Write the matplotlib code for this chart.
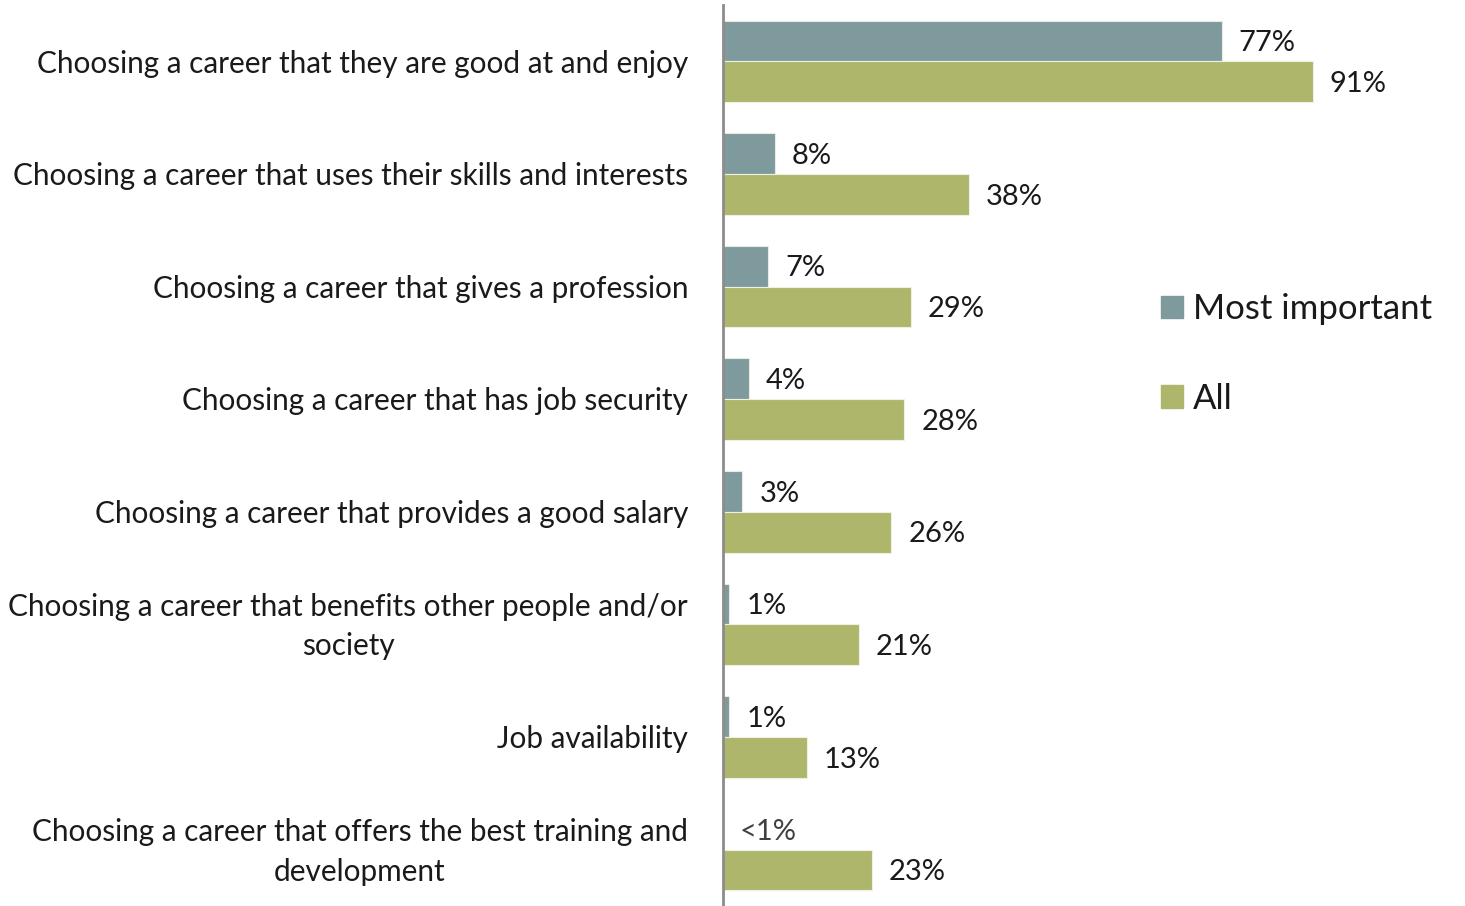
import matplotlib.pyplot as plt
from matplotlib.patches import Patch

plt.rcParams['font.family'] = ['Lato', 'DejaVu Sans']

categories = [
    "Choosing a career that they are good at and enjoy",
    "Choosing a career that uses their skills and interests",
    "Choosing a career that gives a profession",
    "Choosing a career that has job security",
    "Choosing a career that provides a good salary",
    "Choosing a career that benefits other people and/or\nsociety",
    "Job availability",
    "Choosing a career that offers the best training and\ndevelopment",
]
most_important = [77, 8, 7, 4, 3, 1, 1, 0]
most_important_labels = ["77%", "8%", "7%", "4%", "3%", "1%", "1%", "<1%"]
all_values = [91, 38, 29, 28, 26, 21, 13, 23]

teal = '#7f9a9d'
green = '#adb66b'
text_color = '#1a1a1a'

fig = plt.figure(figsize=(14.65, 9.06), dpi=100)
ax = fig.add_axes([723 / 1465, 0, 1 - 723 / 1465, 901 / 906])

pos = list(range(len(categories)))
h = 0.362
ax.barh([p - h / 2 for p in pos], most_important, height=h, color=teal,
        edgecolor='#e8ece4', linewidth=0.8)
ax.barh([p + h / 2 for p in pos], all_values, height=h, color=green,
        edgecolor='#eef0e2', linewidth=0.8)

ax.set_xlim(0, 742 / 6.48)
ax.set_ylim(len(categories) - 0.5, -0.5)

for p, v, lab in zip(pos, most_important, most_important_labels):
    col = '#404040' if lab.startswith('<') else text_color
    ax.text(v + 2.6, p - h / 2 + 0.02, lab, va='center', ha='left', fontsize=21,
            color=col)
for p, v in zip(pos, all_values):
    ax.text(v + 2.6, p + h / 2 + 0.02, f"{v}%", va='center', ha='left', fontsize=21,
            color=text_color)

# category names, right-aligned against the axis, wrapped lines centred
for p, name in zip(pos, categories):
    ax.text(-5.4, p + 0.02, name, ha='right', va='center', multialignment='center',
            fontsize=21.4, color=text_color, linespacing=1.5)

ax.set_yticks([])
ax.set_xticks([])

for side in ['top', 'right', 'bottom']:
    ax.spines[side].set_visible(False)
ax.spines['left'].set_color('#8c8c8c')
ax.spines['left'].set_linewidth(2)

handles = [Patch(color=teal, label='Most important'), Patch(color=green, label='All')]
fig.legend(handles=handles, loc='upper left', bbox_to_anchor=(1130 / 1465, 1 - 262 / 906),
           frameon=False, fontsize=25, labelspacing=1.65, handlelength=0.62,
           handleheight=0.62, handletextpad=0.3, labelcolor=text_color)

fig.savefig('out.png', dpi=100)
